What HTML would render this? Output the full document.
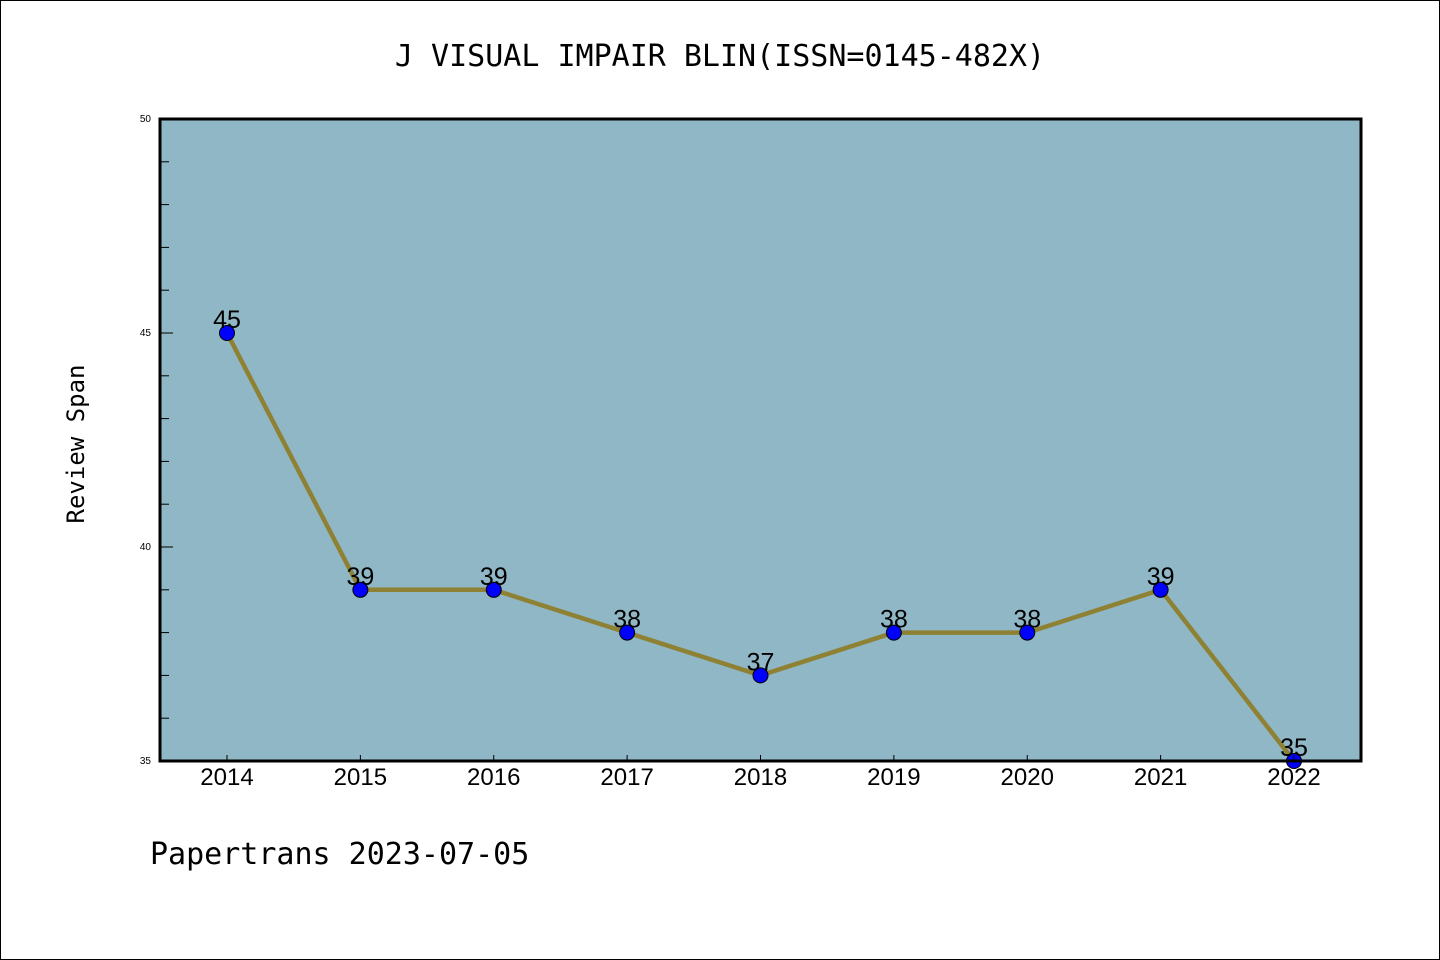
<!DOCTYPE html>
<html><head><meta charset="utf-8"><style>
body{margin:0;background:#fff}
svg{display:block;font-family:"Liberation Sans","DejaVu Sans",sans-serif}
</style></head><body>
<svg id="c" width="1440" height="960">
<rect x="0.5" y="0.5" width="1439" height="959" fill="#fff" stroke="#000"/>
<text x="720" y="66" text-anchor="middle" font-family="DejaVu Sans Mono, Liberation Mono, monospace" font-size="30">J VISUAL IMPAIR BLIN(ISSN=0145-482X)</text>
<rect x="160" y="119" width="1201" height="642" fill="#8fb7c5"/>
<g id="series"></g>
<g id="axes"></g>
<rect x="160" y="119" width="1201" height="642" fill="none" stroke="#000" stroke-width="3"/>
<text transform="translate(84,444) rotate(-90)" text-anchor="middle" font-family="DejaVu Sans Mono, Liberation Mono, monospace" font-size="24">Review Span</text>
<text x="150" y="864" font-family="DejaVu Sans Mono, Liberation Mono, monospace" font-size="30">Papertrans 2023-07-05</text>
</svg>
<script>
const years=[2014,2015,2016,2017,2018,2019,2020,2021,2022];
const values=[45,39,39,38,37,38,38,39,35];
const yTicks=[35,40,45,50];
(function(){
const NS="http://www.w3.org/2000/svg";
const x0=227,x1=1294,yTop=119,yBot=761,yMin=35,yMax=50;
const xs=i=>x0+(x1-x0)*i/(years.length-1);
const ys=v=>yBot-(v-yMin)/(yMax-yMin)*(yBot-yTop);
function mk(t,a,p){const e=document.createElementNS(NS,t);for(const k in a)e.setAttribute(k,a[k]);p.appendChild(e);return e;}
const S=document.getElementById('series'),A=document.getElementById('axes');
const line=mk('polyline',{points:values.map((v,i)=>xs(i)+','+ys(v)).join(' '),fill:'none',stroke:'#8f8133','stroke-width':4.5},S);


values.forEach((v,i)=>{
 const c=mk('circle',{cx:xs(i),cy:ys(v),r:7.5,fill:'#0000ff',stroke:'#000','stroke-width':1},S);
 
 
 const t=mk('text',{x:xs(i),y:ys(v)-5,'text-anchor':'middle','font-size':25},S);
 t.textContent=v;
 
 
});
for(let v=yMin;v<=yMax;v++){
 const major=yTicks.includes(v);
 const tk=mk('line',{x1:160,x2:160+(major?13:9),y1:ys(v),y2:ys(v),stroke:'#000','stroke-width':1},A);
 
 
 if(major){
  const t=mk('text',{x:151,y:ys(v)+3,'text-anchor':'end','font-size':10},A);
  t.textContent=v;
  
  
 }
}
years.forEach((y,i)=>{
 const tk=mk('line',{x1:xs(i),x2:xs(i),y1:yBot,y2:yBot-6,stroke:'#000','stroke-width':1},A);
 
 
 const t=mk('text',{x:xs(i),y:yBot+24,'text-anchor':'middle','font-size':24},A);
 t.textContent=y;
 
 
});
})();
</script>
</body></html>
